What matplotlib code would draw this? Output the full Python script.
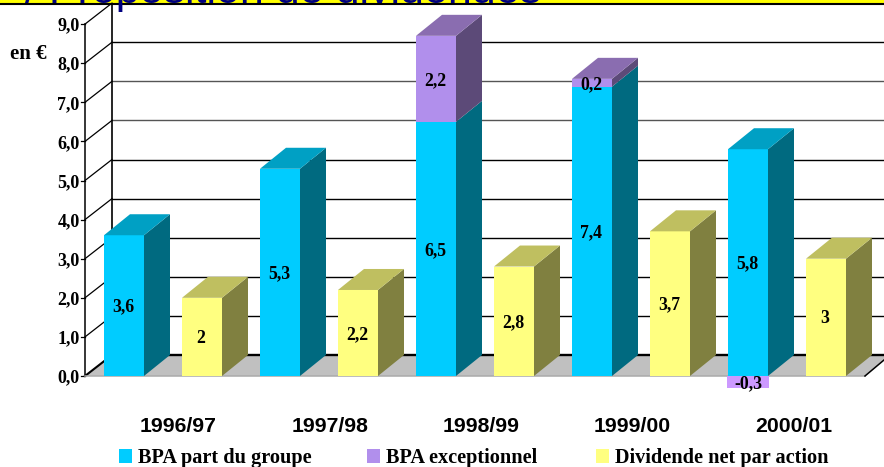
import matplotlib
matplotlib.use("Agg")
import matplotlib.pyplot as plt
from matplotlib.patches import Polygon, Rectangle

W, H = 884, 467
periods = ["1996/97", "1997/98", "1998/99", "1999/00", "2000/01"]
bpa_groupe = [3.6, 5.3, 6.5, 7.4, 5.8]
bpa_except = [0, 0, 2.2, 0.2, -0.3]
dividende = [2, 2.2, 2.8, 3.7, 3]
yticks = [0, 1, 2, 3, 4, 5, 6, 7, 8, 9]
legend_labels = ["BPA part du groupe", "BPA exceptionnel", "Dividende net par action"]
title = "/ Proposition de dividendes"

PX = 39.1
Y0 = 376
DX, DY = 26, 21 / PX
fig = plt.figure(figsize=(W / 100, H / 100), dpi=100)
ax = fig.add_axes([0, 0, 1, 1])
ax.set_xlim(0, W)
ax.set_ylim((Y0 - H) / PX, Y0 / PX)
ax.axis("off")

def py(p):
    return (Y0 - p) / PX

SERIF = "Liberation Serif"
SANS = "Liberation Sans"
BW = 40
C_BLUE, C_BLUE_S, C_BLUE_T = "#00CCFF", "#006A80", "#00A0C4"
C_PUR, C_PUR_S, C_PUR_T = "#B18FEC", "#5C4A78", "#8A6DB0"
C_YEL, C_YEL_S, C_YEL_T = "#FFFF80", "#808040", "#BFBF60"

# title band
ax.add_patch(Rectangle((0, py(3.2)), W, py(0) - py(3.2), color="#FFFF00", lw=0, zorder=1))
ax.plot([0, W], [py(4.2)] * 2, color="black", lw=1.5, zorder=1.2)
ax.text(25, py(3), title, family=SANS, fontsize=31, color="#000080", va="baseline", ha="left", zorder=1.5)

# walls
xl, xb = 85, 112
ax.add_patch(Polygon([(xl, 0), (xb, 21 / PX), (W, 21 / PX), (W, py(360)), (865, 0)], color="#C0C0C0", lw=0, zorder=2))
for t in yticks:
    col = "#555555" if t in (6, 7) else "black"
    if 0 < t < 9:
        ax.plot([xb, W], [t + 21 / PX] * 2, color=col, lw=1.0, zorder=2)
    ax.plot([xl, xb], [t, t + 21 / PX], color="black", lw=0.9 if t else 1.5, zorder=2)
    ax.plot([81, xl], [t, t], color="black", lw=0.9, zorder=2)
    ax.text(79.5, t - 2 / PX, f"{t},0", family=SERIF, weight="bold", fontsize=13, ha="right", va="center", zorder=6)
ax.plot([xb, W], [21 / PX] * 2, color="black", lw=1.7, zorder=2.1)
ax.plot([xl, xl], [0, 9], color="black", lw=1.1, zorder=2)
ax.plot([xb, xb], [21 / PX, py(4)], color="black", lw=1.2, zorder=2)
ax.plot([xl, 865], [0, 0], color="#AAAAAA", lw=1.1, zorder=2.2)
ax.plot([865, W], [0, py(360)], color="black", lw=1.1, zorder=2.2)
ax.text(10, py(54), "en €", family=SERIF, weight="bold", fontsize=15, va="center", zorder=6)

def box3d(x, lo, hi, front, side, top, z, draw_top=True):
    ax.bar(x, hi - lo, BW, bottom=lo, align="edge", color=front, zorder=z, lw=0)
    ax.add_patch(Polygon([(x + BW, lo), (x + BW + DX, lo + DY), (x + BW + DX, hi + DY), (x + BW, hi)],
                         color=side, zorder=z, lw=0))
    if draw_top:
        ax.add_patch(Polygon([(x, hi), (x + DX, hi + DY), (x + BW + DX, hi + DY), (x + BW, hi)],
                             color=top, zorder=z, lw=0))

def val(x, y, s):
    ax.text(x - 1, y - 1.5 / PX, s, family=SERIF, weight="bold", fontsize=12.8, ha="center", va="center", zorder=8)

STEP = 156
for i in range(len(periods)):
    xa = 104 + STEP * i
    xy = 182 + STEP * i
    g, e, d = bpa_groupe[i], bpa_except[i], dividende[i]
    z = 3 + i
    box3d(xa, 0, g, C_BLUE, C_BLUE_S, C_BLUE_T, z, draw_top=e <= 0)
    val(xa + 20, g / 2, str(g).replace(".", ","))
    if e > 0:
        box3d(xa, g, g + e, C_PUR, C_PUR_S, C_PUR_T, z)
        val(xa + 20, g + e / 2, str(e).replace(".", ","))
    elif e < 0:
        ax.bar(xa - 1, -e, BW + 2, bottom=e, align="edge", color="#CC99FF", zorder=z, lw=0)
        val(xa + 21, e / 2, str(e).replace(".", ","))
    box3d(xy, 0, d, C_YEL, C_YEL_S, C_YEL_T, z + 0.5)
    val(xy + 20, d / 2, str(d).replace(".", ","))

cat_x = [178, 330, 481, 632, 794]
for x, lab in zip(cat_x, periods):
    ax.text(x, py(426), lab, family=SANS, weight="bold", fontsize=15.3, ha="center", va="center")

leg_x = [119, 367, 596]
for x, lab, c in zip(leg_x, legend_labels, [C_BLUE, C_PUR, C_YEL]):
    ax.add_patch(Rectangle((x, py(463)), 13, py(449) - py(463), color=c, lw=0))
    ax.text(x + 19, py(457.5), lab, family=SERIF, weight="bold", fontsize=14.6, va="center")

fig.savefig("out.png", dpi=100)
